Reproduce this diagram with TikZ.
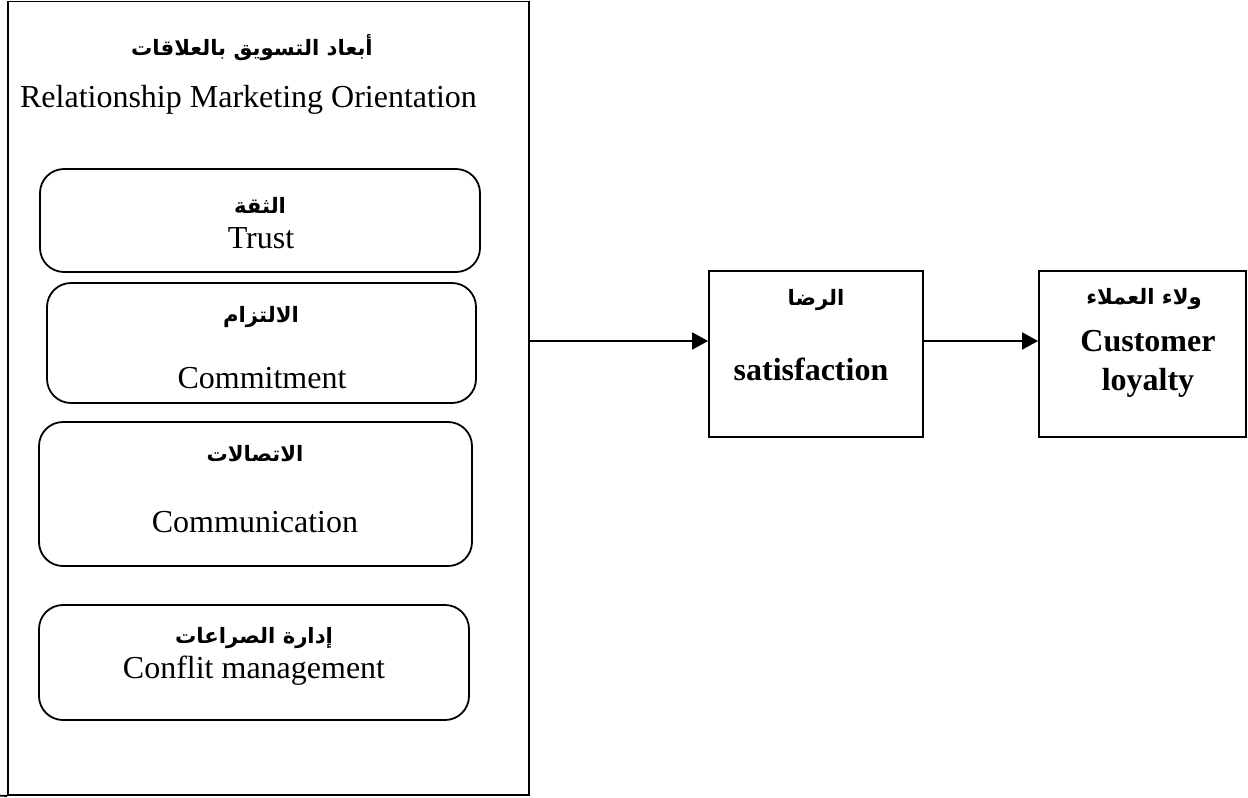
\documentclass[tikz,border=0pt]{standalone}
\usepackage{fontspec}
\setmainfont{Liberation Serif}
\newfontfamily\arabicfont[Script=Arabic]{DejaVu Sans}
\TeXXeTstate=1
\usetikzlibrary{arrows.meta}
\newcommand{\ar}[1]{{\arabicfont\bfseries\fontsize{10.6}{13}\selectfont\beginR #1\endR}}
\begin{document}
\begin{tikzpicture}[x=0.5pt,y=-0.5pt,
  frame/.style={draw, line width=0.9pt, inner sep=0pt},
  rbox/.style={draw, line width=0.9pt, rounded corners=12pt, inner sep=0pt},
  en/.style={inner sep=0pt, font=\fontsize{16}{19}\selectfont},
  enb/.style={inner sep=0pt, font=\fontsize{16}{19}\selectfont\bfseries},
  arb/.style={inner sep=0pt},
  arr/.style={line width=0.9pt, -{Triangle[length=8pt,width=8.5pt]}}]
\useasboundingbox (0,0) rectangle (1248,798);

% outer frame of the relationship marketing dimensions
\node[frame, minimum width=260.5pt, minimum height=396.75pt] (big) at (268.5,398.25) {};
\coordinate (bl) at (0,795.75);
\draw[line width=0.9pt] (bl) -- (big.south west);

\node[arb] (ttlar) at (252,48) {\ar{أبعاد التسويق بالعلاقات}};
\node[en] (ttlen) at (248.5,100) {Relationship Marketing Orientation};

% the four dimensions
\node[rbox, minimum width=220pt, minimum height=51.5pt] (trust) at (260,220.5) {};
\node[arb] (trustar) at (260,205) {\ar{الثقة}};
\node[en] (trusten) at (261,238) {Trust};

\node[rbox, minimum width=214.5pt, minimum height=60pt] (commit) at (261.5,343) {};
\node[arb] (commitar) at (261,317) {\ar{الالتزام}};
\node[en] (commiten) at (262,378) {Commitment};

\node[rbox, minimum width=216.5pt, minimum height=72pt] (comm) at (255.5,494) {};
\node[arb] (commar) at (255,454) {\ar{الاتصالات}};
\node[en] (commen) at (255,522) {Communication};

\node[rbox, minimum width=215pt, minimum height=57.5pt] (confl) at (254,662.5) {};
\node[arb] (conflar) at (254,638) {\ar{إدارة الصراعات}};
\node[en] (conflen) at (254,671) {Conflit management};

% satisfaction and loyalty
\node[frame, minimum width=107pt, minimum height=83pt] (sat) at (816,354) {};
\node[arb] (satar) at (816,300) {\ar{الرضا}};
\node[enb] (saten) at (811,369) {satisfaction};

\node[frame, minimum width=103.5pt, minimum height=83pt] (loy) at (1142.5,354) {};
\node[arb] (loyar) at (1144,299) {\ar{ولاء العملاء}};
\node[enb] (loyen1) at (1148,341) {Customer};
\node[enb] (loyen2) at (1148,383) {loyalty};

% arrows
\coordinate (a1) at ([yshift=6.5pt]sat.west);
\draw[arr] (big.east |- a1) -- (a1);
\draw[arr] (sat.east |- a1) -- (loy.west |- a1);
\end{tikzpicture}
\end{document}
